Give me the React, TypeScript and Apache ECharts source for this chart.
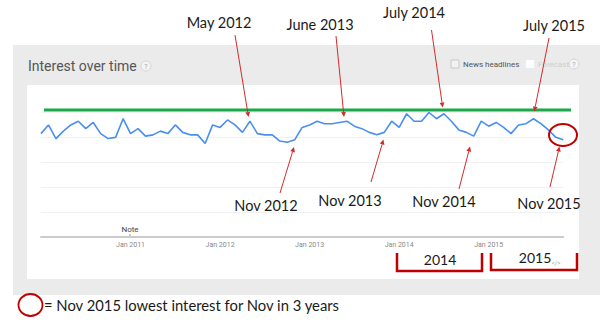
import React, { useEffect, useRef } from "react";
import * as echarts from "echarts";

const startYear = 2010;
const monthNames = ["Jan", "Feb", "Mar", "Apr", "May", "Jun", "Jul", "Aug", "Sep", "Oct", "Nov", "Dec"];
// Monthly interest, Jan 2010 .. Nov 2015
const interest = [
  83, 90, 79, 85, 90, 93, 87, 92, 83, 79, 80, 95,
  83, 87, 81, 82, 85, 83, 90, 84, 82, 82, 75, 90,
  88, 94, 90, 84, 93, 83, 82, 82, 77, 76, 78, 88,
  90, 93, 91, 91, 92, 93, 89, 87, 84, 82, 84, 93,
  88, 99, 93, 93, 100, 95, 99, 93, 86, 84, 81, 93,
  89, 92, 88, 83, 90, 91, 95, 91, 86, 80, 78,
];
const yTicks = [0, 20, 40, 60, 80, 100];
const topLabels = ["May 2012", "June 2013", "July 2014", "July 2015"];
const bottomLabels = ["Nov 2012", "Nov 2013", "Nov 2014", "Nov 2015"];
const bracketLabels = ["2014", "2015"];
const legendText = "= Nov 2015 lowest interest for Nov in 3 years";

const months = interest.map((_, i) => `${monthNames[i % 12]} ${startYear + Math.floor(i / 12)}`);

const RED = "#d42a2a";
const DARKRED = "#c00000";
const ANN_FONT = "Lato, 'Open Sans', sans-serif";

function arrow(x1: number, y1: number, x2: number, y2: number) {
  const dx = x2 - x1, dy = y2 - y1;
  const len = Math.hypot(dx, dy);
  const ux = dx / len, uy = dy / len;
  const hl = 5, hw = 2.4;
  const bx = x2 - ux * hl, by = y2 - uy * hl;
  return [
    { type: "line", z: 50, shape: { x1, y1, x2: bx, y2: by }, style: { stroke: RED, lineWidth: 1 } },
    {
      type: "polygon", z: 50,
      shape: { points: [[x2, y2], [bx - uy * hw, by + ux * hw], [bx + uy * hw, by - ux * hw]] },
      style: { fill: RED },
    },
  ];
}

function label(text: string, x: number, y: number, size = 14.5) {
  return {
    type: "text", z: 50, x, y,
    style: { text, fontSize: size, fontFamily: ANN_FONT, fill: "#1a1a1a", align: "center", verticalAlign: "middle" },
  };
}

export default function App() {
  const ref = useRef<HTMLDivElement>(null);
  useEffect(() => {
    if (!ref.current) return;
    const chart = echarts.init(ref.current, null, { renderer: "svg" });
    const topPos = [[219, 22], [320, 24], [414, 12], [554, 25]];
    const botPos = [[266, 205], [350, 200], [444, 201], [549, 203]];
    const graphic: any[] = [
      { type: "rect", z: -10, shape: { x: 13, y: 45, width: 587, height: 250 }, style: { fill: "#ebebeb" } },
      { type: "rect", z: -9, shape: { x: 27, y: 85, width: 552, height: 194 }, style: { fill: "#ffffff" } },
      {
        type: "text", x: 28, y: 66,
        style: { text: "Interest over time", fontSize: 14, fontFamily: "Roboto, sans-serif", fill: "#555", verticalAlign: "middle" },
      },
      { type: "circle", shape: { cx: 146, cy: 66, r: 5 }, style: { fill: "#f4f4f4", stroke: "#d4d4d4", lineWidth: 1 } },
      { type: "text", x: 146, y: 66.5, style: { text: "?", fontSize: 7, fontFamily: "Roboto, sans-serif", fill: "#aaa", align: "center", verticalAlign: "middle" } },
      { type: "rect", shape: { x: 451, y: 60, width: 8, height: 8 }, style: { fill: "#f2f2f2", stroke: "#c8c8c8", lineWidth: 1 } },
      { type: "text", x: 463, y: 64, style: { text: "News headlines", fontSize: 8, fontFamily: "Roboto, sans-serif", fill: "#555", verticalAlign: "middle" } },
      { type: "rect", shape: { x: 526, y: 60, width: 8, height: 8 }, style: { fill: "#ffffff" } },
      { type: "text", x: 538, y: 64, style: { text: "Forecast", fontSize: 8, fontFamily: "Roboto, sans-serif", fill: "#cfcfcf", verticalAlign: "middle" } },
      { type: "circle", shape: { cx: 574, cy: 64, r: 5 }, style: { fill: "#f4f4f4", stroke: "#d4d4d4", lineWidth: 1 } },
      { type: "text", x: 574, y: 64.5, style: { text: "?", fontSize: 7, fontFamily: "Roboto, sans-serif", fill: "#aaa", align: "center", verticalAlign: "middle" } },
      // Note marker
      { type: "text", x: 130, y: 229, style: { text: "Note", fontSize: 8, fontFamily: "Roboto, sans-serif", fill: "#444", align: "center", verticalAlign: "middle" } },
      { type: "line", shape: { x1: 130, y1: 234, x2: 130, y2: 236 }, style: { stroke: "#999", lineWidth: 1 } },
      // green reference line
      { type: "line", z: 40, shape: { x1: 44, y1: 110, x2: 571, y2: 110 }, style: { stroke: "#1ba84a", lineWidth: 3 } },
      // circle around last points
      { type: "ellipse", z: 45, shape: { cx: 563, cy: 135, rx: 14, ry: 11 }, style: { fill: "none", stroke: DARKRED, lineWidth: 2 } },
      // brackets
      { type: "polyline", z: 45, shape: { points: [[397, 253], [397, 271], [482, 271], [482, 253]] }, style: { stroke: DARKRED, lineWidth: 2.5, fill: "none" } },
      { type: "polyline", z: 45, shape: { points: [[491, 253], [491, 270], [577, 270], [577, 253]] }, style: { stroke: DARKRED, lineWidth: 2.5, fill: "none" } },
      label(bracketLabels[0], 440, 259, 14),
      label(bracketLabels[1], 535, 257, 14),
      { type: "text", x: 556, y: 262, style: { text: "</>", fontSize: 6, fontFamily: "Roboto, sans-serif", fill: "#999", align: "center", verticalAlign: "middle" } },
      // legend
      { type: "ellipse", shape: { cx: 30.5, cy: 305, rx: 12, ry: 11 }, style: { fill: "none", stroke: DARKRED, lineWidth: 1.8 } },
      { type: "text", x: 44, y: 305, style: { text: legendText, fontSize: 14.8, fontFamily: ANN_FONT, fill: "#1a1a1a", verticalAlign: "middle" } },
    ];
    topLabels.forEach((t, i) => graphic.push(label(t, topPos[i][0], topPos[i][1])));
    bottomLabels.forEach((t, i) => graphic.push(label(t, botPos[i][0], botPos[i][1])));
    [
      [235, 35, 248.5, 117],
      [336, 36, 344, 117],
      [431.5, 30, 442.7, 107.5],
      [549, 38, 534.3, 111.5],
      [280, 193, 294, 147],
      [371, 182, 383.5, 139.5],
      [459, 189, 470, 146.5],
      [550, 187, 559.5, 146.5],
    ].forEach(([a, b, c, d]) => graphic.push(...arrow(a, b, c, d)));

    chart.setOption({
      animation: false,
      backgroundColor: "#ffffff",
      grid: { left: 41, right: 36.7, top: 112.5, bottom: 89.3 },
      xAxis: {
        type: "category",
        data: months,
        boundaryGap: false,
        axisLine: { lineStyle: { color: "#cccccc", width: 2 } },
        axisTick: { show: false },
        axisLabel: {
          interval: (idx: number) => idx > 0 && idx % 12 === 0,
          fontSize: 7,
          color: "#888",
          margin: 5,
          fontFamily: "Roboto, sans-serif",
        },
        splitLine: { show: false },
      },
      yAxis: {
        type: "value",
        min: yTicks[0],
        max: yTicks[yTicks.length - 1],
        interval: 20,
        axisLine: { show: false },
        axisTick: { show: false },
        axisLabel: { show: false },
        splitLine: { lineStyle: { color: "#f0f0f0", width: 1 } },
      },
      series: [
        {
          type: "line",
          data: interest,
          showSymbol: false,
          symbol: "none",
          lineStyle: { color: "#4a8ff0", width: 1.6 },
          z: 10,
        },
      ],
      graphic,
    });
    return () => chart.dispose();
  }, []);
  return (
    <div
      ref={ref}
      style={{ position: "fixed", left: 0, top: 0, width: 600, height: 326, background: "#fff" }}
    />
  );
}
